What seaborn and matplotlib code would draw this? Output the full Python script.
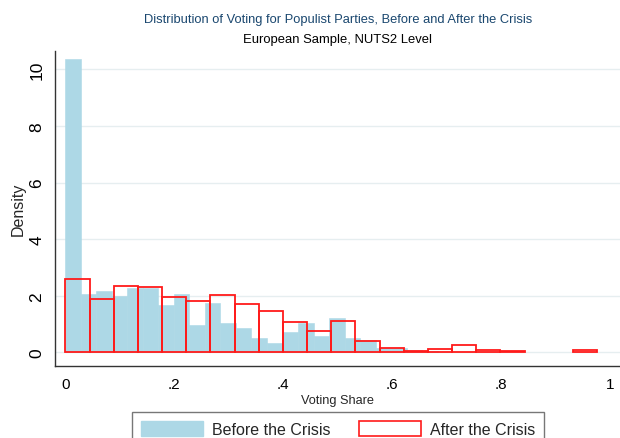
import numpy as np
import pandas as pd
import matplotlib
matplotlib.use("Agg")
import matplotlib.pyplot as plt
import seaborn as sns
from matplotlib.patches import Patch

# Histogram densities of regional populist vote share (NUTS2)
before_start = 0.0
before_width = 0.0285
before_density = [10.35, 2.06, 2.17, 2.00, 2.26, 2.28, 1.67, 2.05, 0.97, 1.75,
                  1.04, 0.85, 0.52, 0.33, 0.71, 1.04, 0.59, 1.23, 0.52, 0.45,
                  0.16, 0.14, 0.10, 0.06]

after_start = 0.0
after_width = 0.0444
after_density = [2.59, 1.87, 2.36, 2.31, 1.95, 1.81, 2.04, 1.72, 1.45, 1.06,
                 0.75, 1.10, 0.39, 0.17, 0.06, 0.12, 0.26, 0.08, 0.05, 0.0,
                 0.0, 0.08]

x_ticks = [0, 0.2, 0.4, 0.6, 0.8, 1.0]
x_ticklabels = ["0", ".2", ".4", ".6", ".8", "1"]
y_ticks = [0, 2, 4, 6, 8, 10]

title = "Distribution of Voting for Populist Parties, Before and After the Crisis"
subtitle = "European Sample, NUTS2 Level"
legend_labels = ["Before the Crisis", "After the Crisis"]


def bin_table(start, width, density):
    n = len(density)
    edges = start + width * np.arange(n + 1)
    centers = (edges[:-1] + edges[1:]) / 2
    return [float(e) for e in edges], pd.DataFrame({"share": centers, "density": density})


sns.set_style("white")
plt.rcParams["font.family"] = ["Liberation Sans", "DejaVu Sans"]

fig = plt.figure(figsize=(6.2, 4.39), dpi=100)
ax = fig.add_axes([0.0887, 0.1647, 0.9113, 0.7175])

blue = "#add8e6"
red = "#ff1a1a"

b_edges, before_df = bin_table(before_start, before_width, before_density)
a_edges, after_df = bin_table(after_start, after_width, after_density)

sns.histplot(data=before_df, x="share", weights="density", bins=b_edges,
             stat="count", color=blue, edgecolor=blue, linewidth=0.4,
             alpha=1.0, ax=ax, zorder=2)
n_before = len(ax.patches)
sns.histplot(data=after_df, x="share", weights="density", bins=a_edges,
             stat="count", fill=False, color=red, linewidth=1.3,
             ax=ax, zorder=3)
# empty bins have no outline
for p in list(ax.patches[n_before:]):
    if p.get_height() <= 0:
        p.remove()

ax.set_xlim(-0.019, 1.019)
ax.set_ylim(-0.47, 10.66)
ax.set_xticks(x_ticks)
ax.set_xticklabels(x_ticklabels)
ax.set_yticks(y_ticks)
ax.set_yticklabels([str(v) for v in y_ticks], rotation=90, va="center")

ax.grid(axis="y", color="#e6eef0", linewidth=1.0, zorder=0)
ax.grid(axis="x", visible=False)
ax.set_axisbelow(True)

for side in ["top", "right"]:
    ax.spines[side].set_visible(False)
for side in ["left", "bottom"]:
    ax.spines[side].set_color("#333333")
    ax.spines[side].set_linewidth(1.0)

ax.tick_params(axis="both", direction="out", width=1.0,
               color="#333333", labelcolor="black")
ax.tick_params(axis="x", length=5, pad=3, labelsize=11)
ax.tick_params(axis="y", length=4.3, pad=3.5, labelsize=12.5)

ax.set_xlabel("Voting Share", fontsize=9.2, labelpad=2)
ax.set_ylabel("Density", fontsize=11.5)
ax.yaxis.set_label_coords(-0.052, 0.5)

fig.text(0.545, 0.955, title, ha="center", va="center", fontsize=9.3,
         color="#1a476f")
fig.text(0.545, 0.909, subtitle, ha="center", va="center", fontsize=9.4,
         color="black")

handles = [Patch(facecolor=blue, edgecolor=blue),
           Patch(facecolor="white", edgecolor=red, linewidth=1.2)]
leg = fig.legend(handles, legend_labels, loc="upper center",
                 bbox_to_anchor=(0.545, 0.0592), ncol=2, fontsize=11.5,
                 frameon=True, fancybox=False, handlelength=3.9,
                 handleheight=1.1, handletextpad=0.55, columnspacing=1.75,
                 borderpad=0.55, borderaxespad=0.0)
leg.get_frame().set_edgecolor("#555555")
leg.get_frame().set_linewidth(1.0)

fig.savefig("out.png", dpi=100)
